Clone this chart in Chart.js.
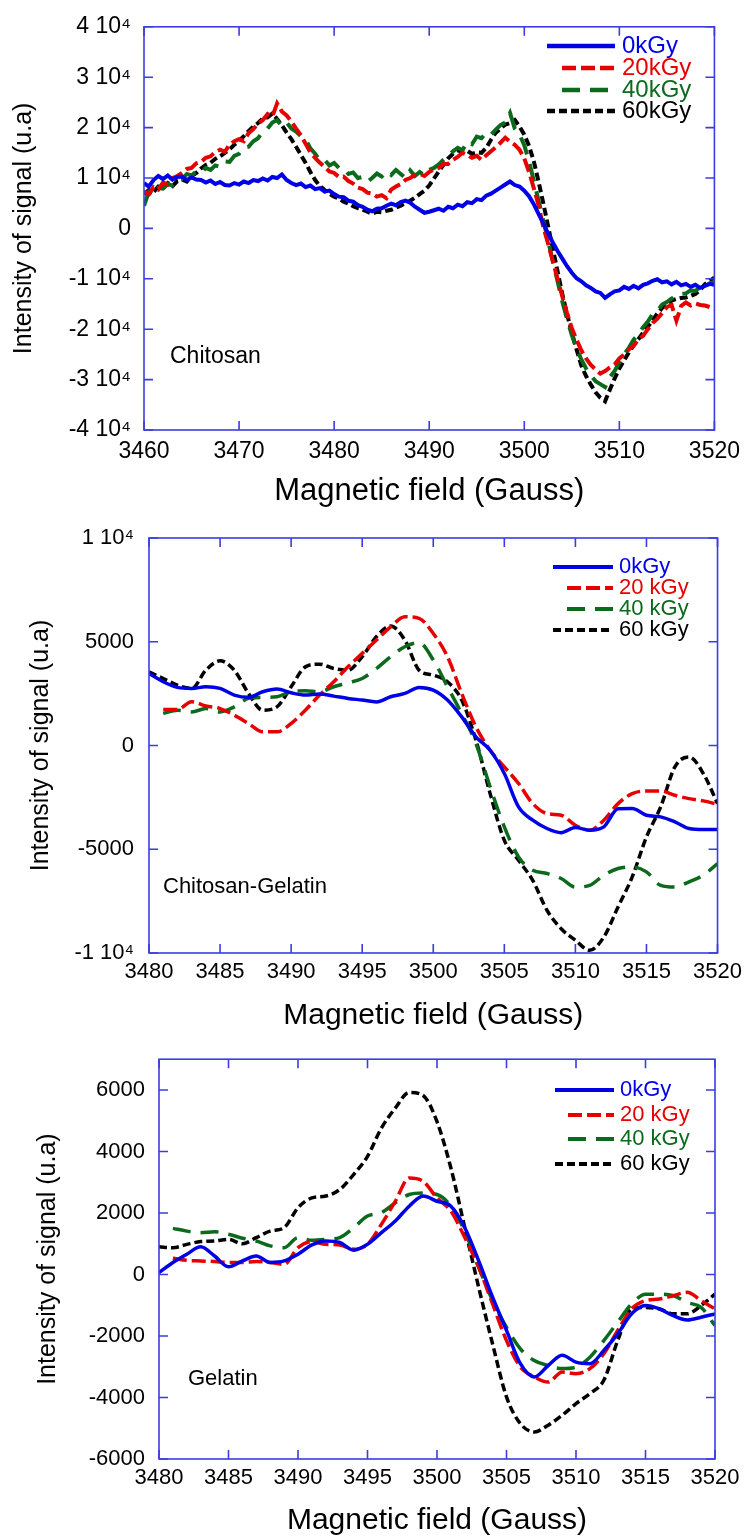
<!DOCTYPE html>
<html>
<head>
<meta charset="utf-8">
<script src="https://cdn.jsdelivr.net/npm/chart.js@4.4.1/dist/chart.umd.min.js"></script>
<style>
  body { margin: 0; background: #fff; }
  #wrap { position: relative; width: 748px; height: 1537px; }
  canvas { position: absolute; left: 0; }
</style>
</head>
<body>
<div id="wrap">
  <canvas id="c1" width="748" height="507" style="top:0px"></canvas>
  <canvas id="c2" width="748" height="525" style="top:507px"></canvas>
  <canvas id="c3" width="748" height="505" style="top:1032px"></canvas>
</div>
<script>
// ---- Chitosan (top panel) ----
const chitosanField = [3460,3460.5,3461,3461.5,3462,3462.5,3463,3463.5,3464,3464.5,3465,3465.5,3466,3466.5,3467,3467.5,3468,3468.5,3469,3469.5,
  3470,3470.5,3471,3471.5,3472,3472.5,3473,3473.5,3474,3474.5,3475,3475.5,3476,3476.5,3477,3477.5,3478,3478.5,3479,3479.5,
  3480,3480.5,3481,3481.5,3482,3482.5,3483,3483.5,3484,3484.5,3485,3485.5,3486,3486.5,3487,3487.5,3488,3488.5,3489,3489.5,
  3490,3490.5,3491,3491.5,3492,3492.5,3493,3493.5,3494,3494.5,3495,3495.5,3496,3496.5,3497,3497.5,3498,3498.5,3499,3499.5,
  3500,3500.5,3501,3501.5,3502,3502.5,3503,3503.5,3504,3504.5,3505,3505.5,3506,3506.5,3507,3507.5,3508,3508.5,3509,3509.5,
  3510,3510.5,3511,3511.5,3512,3512.5,3513,3513.5,3514,3514.5,3515,3515.5,3516,3516.5,3517,3517.5,3518,3518.5,3519,3519.5,3520];
const chitosan0 = [9000,8300,9600,10400,9800,10500,9700,10200,10300,9600,10100,9700,9600,9100,9500,8800,9200,8600,8500,9000,
  8700,9300,9000,9600,9400,9900,9500,10200,10000,10700,9600,9000,8600,8900,8200,8500,7800,8000,7300,7500,
  6800,6300,6200,5500,5300,4600,4300,3700,3400,3900,4000,4500,4900,4600,5200,5500,5100,4300,3700,3100,
  3300,3600,3900,3500,4300,4000,4700,4400,5200,5000,5800,5600,6500,6900,7500,8100,8700,9300,8600,8300,
  7500,6400,4800,2900,1000,-1000,-2800,-4500,-6000,-7500,-8800,-9900,-10500,-11300,-11800,-12500,-12800,-13800,-13100,-12500,
  -12300,-11600,-12000,-11400,-11900,-11200,-10900,-10400,-10100,-10700,-10500,-11100,-10600,-11300,-11000,-11600,-11200,-11800,-11400,-11000,-11200];
const chitosan20 = [7300,6800,8200,7700,9100,8700,10000,10400,11000,11800,12000,12900,13200,14000,14300,15200,15600,15200,16600,17300,
  17700,17300,18900,19700,20800,21500,22700,22200,24800,23200,22400,21200,19800,18500,16800,15100,14000,13000,12200,11300,
  11000,10200,10300,9400,8900,8100,7800,7100,6900,6300,6600,6000,7700,8300,8800,9600,10000,10600,10800,10400,
  11200,11700,12000,12800,12800,13600,14200,15000,14600,14000,14400,13600,14500,15300,16100,17000,18000,17200,16600,15600,
  13900,11200,8000,4600,300,-3000,-6500,-10000,-13500,-16800,-19800,-22100,-24200,-25800,-27100,-28000,-28800,-28300,-27600,-27000,
  -25800,-25000,-24000,-23300,-22000,-21300,-20000,-18800,-17900,-16800,-15600,-15200,-18300,-15400,-14700,-15300,-14900,-15200,-15300,-15600,-16000];
const chitosan40 = [4500,7200,6600,8000,7900,8800,8500,9600,9800,10800,10500,11300,11000,12000,11600,12500,12200,13300,13200,14400,
  14800,16000,16200,17300,17900,19200,19800,21000,21500,20300,21000,19800,19200,18300,17600,15900,14800,13500,13600,12500,
  13000,12000,11900,10800,11100,10000,10200,9300,10000,10900,10300,11300,10600,11600,10800,10000,11500,10400,11200,10500,
  11600,12000,12700,13600,14400,15300,16000,15500,17200,16700,18200,17900,19000,18600,19600,20500,21000,22900,19800,18600,
  16500,13300,9500,5500,1600,-2400,-6500,-10500,-14500,-18000,-21200,-23800,-26000,-27800,-29200,-30300,-30900,-31500,-29500,-28300,
  -26600,-25000,-23700,-22100,-21000,-19600,-18500,-17000,-16400,-15100,-14600,-13900,-13500,-13000,-12900,-12300,-12400,-11700,-11600,-10900,-10600];
const chitosan60 = [6800,7600,7200,8300,8000,9000,8400,9400,9700,9300,10400,11000,11900,12600,13000,13800,14300,15000,15700,16600,
  17400,18300,19300,20200,20900,21800,22000,22800,21700,20500,19000,17700,16200,14600,13000,11200,9600,8400,7600,6900,
  6300,5900,5300,4900,4400,4000,3700,3300,2900,3300,3200,3500,3700,4100,4500,5000,5500,6100,6800,7500,
  8500,9900,11300,12600,13900,14800,15500,15200,15400,14800,15100,15000,16000,17600,19000,19800,20600,20900,21500,20200,
  18600,16400,13300,9300,5000,500,-4000,-8500,-13000,-17000,-20700,-24000,-27200,-29300,-31000,-32500,-33600,-34300,-32000,-29800,
  -27800,-26200,-24600,-23200,-22000,-20700,-19500,-18200,-16900,-15800,-15000,-14300,-14000,-13800,-13700,-13400,-13000,-12200,-11100,-10400,-9800];
const chitosanXTicks = [3460, 3470, 3480, 3490, 3500, 3510, 3520];
const chitosanYTicks = [-40000, -30000, -20000, -10000, 0, 10000, 20000, 30000, 40000];

// ---- Chitosan-Gelatin (middle panel) ----
const blendField = [3480,3481,3482,3483,3484,3485,3486,3487,3488,3489,3490,3491,3492,3493,3494,3495,3496,3497,3498,3499,
  3500,3501,3502,3503,3504,3505,3506,3507,3508,3509,3510,3511,3512,3513,3514,3515,3516,3517,3518,3519,3520];
const blend0 = [3470,3070,2800,2750,2830,2750,2430,2320,2590,2720,2540,2430,2480,2380,2270,2190,2100,2350,2510,2800,
  2670,2190,1380,420,-230,-1350,-2960,-3600,-4000,-4200,-3950,-4080,-3920,-3050,-3040,-3360,-3440,-3680,-4000,-4050,-4050];
const blend20 = [null,1740,1740,2110,1900,1780,1460,1060,660,660,1060,1700,2430,3070,3790,4440,5080,5720,6210,6130,
  5400,4280,2510,900,-230,-1030,-1830,-2800,-3280,-3360,-3840,-4080,-3600,-2800,-2320,-2190,-2190,-2400,-2560,-2670,-2830];
const blend40 = [null,1540,1700,1620,1780,1620,1860,2270,2320,2350,2590,2640,2590,2830,3020,3230,3710,4280,4760,4950,
  4120,2830,1540,100,-1990,-3920,-5370,-6010,-6170,-6410,-6820,-6740,-6250,-5930,-5850,-6090,-6740,-6820,-6570,-6250,-5690];
const blend60 = [3550,3230,2910,2750,3630,4080,3630,2510,1700,1860,2830,3790,3920,3710,3630,4280,5240,5760,5080,3630,
  3390,3070,2190,260,-2320,-4570,-5530,-6500,-7940,-8830,-9390,-9870,-9230,-7780,-6330,-4410,-2960,-1030,-550,-1350,-2800];
const blendXTicks = [3480, 3485, 3490, 3495, 3500, 3505, 3510, 3515, 3520];
const blendYTicks = [-10000, -5000, 0, 5000, 10000];

// ---- Gelatin (bottom panel) ----
const gelatinField = blendField;
const gelatin0 = [65,390,660,900,600,250,440,600,390,440,660,960,1090,1040,790,980,1360,1740,2220,2550,
  2380,2220,1520,440,-740,-1820,-2900,-3330,-2960,-2630,-2850,-2900,-2470,-1930,-1280,-1010,-1120,-1340,-1480,-1390,-1280];
const gelatin20 = [null,530,460,440,420,390,390,420,390,330,870,1070,980,960,820,980,1630,2380,3140,3030,
  2490,2060,1200,230,-960,-2150,-3010,-3330,-3500,-3170,-3230,-3060,-2580,-1820,-1120,-850,-800,-690,-580,-850,-1120];
const gelatin40 = [null,1500,1410,1360,1390,1310,1180,1090,930,870,1200,1110,1140,1200,1520,1900,2010,2330,2600,2650,
  2600,2220,1410,230,-850,-1720,-2420,-2800,-2960,-3060,-3010,-2690,-2150,-1550,-960,-640,-640,-690,-910,-1070,-1660];
const gelatin60 = [900,870,980,1070,1090,1140,1000,1200,1410,1520,2170,2490,2550,2760,3250,3840,4760,5410,5920,5820,
  4970,3460,1520,-420,-2260,-3980,-4850,-5120,-4900,-4580,-4200,-3870,-3440,-2150,-1120,-1070,-1120,-1280,-1280,-1010,-640];
const gelatinXTicks = blendXTicks;
const gelatinYTicks = [-6000, -4000, -2000, 0, 2000, 4000, 6000];

const labelsA = ["0kGy", "20kGy", "40kGy", "60kGy"];
const labelsB = ["0kGy", "20 kGy", "40 kGy", "60 kGy"];

const BLUE = "#0000e6", RED = "#e60000", GREEN = "#0b6a1c", BLACK = "#000000";
const FRAME = "#3c3ce0";
const FONT = "'Liberation Sans', Arial, sans-serif";

function pts(xs, ys) {
  return xs.map((x, i) => ({ x: x, y: ys[i] }));
}

function series(xs, cols, labels, width, smooth) {
  const dashes = [[], [14, 5], [18, 10], [8, 4]];
  const colors = [BLUE, RED, GREEN, BLACK];
  return cols.map((ys, i) => ({
    label: labels[i],
    data: pts(xs, ys),
    borderColor: colors[i],
    borderWidth: width,
    borderDash: dashes[i],
    pointRadius: 0,
    fill: false,
    spanGaps: false,
    tension: smooth ? 0.4 : 0,
    cubicInterpolationMode: smooth ? "monotone" : "default"
  }));
}

// frame, inward ticks, in-plot legend and sample name
const overlay = {
  id: "overlay",
  afterDatasetsDraw(chart, args, o) {
    const ctx = chart.ctx, a = chart.chartArea;
    const xs = chart.scales.x, ys = chart.scales.y;
    ctx.save();
    ctx.setLineDash([]);
    ctx.strokeStyle = FRAME;
    ctx.lineWidth = 1.6;
    ctx.beginPath();
    xs.ticks.forEach(t => {
      const p = xs.getPixelForValue(t.value);
      ctx.moveTo(p, a.bottom); ctx.lineTo(p, a.bottom - 9);
      ctx.moveTo(p, a.top); ctx.lineTo(p, a.top + 9);
    });
    ys.ticks.forEach(t => {
      const p = ys.getPixelForValue(t.value);
      ctx.moveTo(a.left, p); ctx.lineTo(a.left + 9, p);
      ctx.moveTo(a.right, p); ctx.lineTo(a.right - 9, p);
    });
    ctx.stroke();
    ctx.strokeRect(a.left, a.top, a.right - a.left, a.bottom - a.top);

    // legend
    ctx.textBaseline = "middle";
    ctx.textAlign = "left";
    ctx.font = o.legendFont + "px " + FONT;
    chart.data.datasets.forEach((ds, i) => {
      const y = o.rows[i];
      ctx.strokeStyle = ds.borderColor;
      ctx.lineWidth = ds.borderWidth + 0.5;
      ctx.setLineDash(ds.borderDash);
      ctx.beginPath();
      ctx.moveTo(o.lineStart[i], y);
      ctx.lineTo(o.lineEnd, y);
      ctx.stroke();
      ctx.fillStyle = ds.borderColor;
      ctx.fillText(ds.label, o.textX, y);
    });

    ctx.setLineDash([]);
    ctx.fillStyle = "#000";
    ctx.font = o.noteFont + "px " + FONT;
    ctx.fillText(o.note, o.noteX, o.noteY);
    ctx.restore();
  }
};

function panel(id, p) {
  new Chart(document.getElementById(id), {
    type: "line",
    data: { datasets: p.datasets },
    options: {
      responsive: false,
      animation: false,
      layout: { padding: { top: p.top, right: p.right, left: 0, bottom: 0 } },
      plugins: { legend: { display: false }, tooltip: { enabled: false }, overlay: p.overlay },
      scales: {
        x: {
          type: "linear",
          min: p.xmin, max: p.xmax,
          afterBuildTicks: s => { s.ticks = p.xticks.map(v => ({ value: v })); },
          afterFit: s => { s.height = p.xh; },
          grid: { display: false, drawTicks: false, tickLength: 0 },
          border: { display: false },
          ticks: { padding: p.xpad, color: "#000", autoSkip: false,
                   font: { family: FONT, size: p.tickSize }, maxRotation: 0,
                   callback: v => String(v) },
          title: { display: true, text: "Magnetic field (Gauss)", color: "#000",
                   font: { family: FONT, size: p.xtSize, lineHeight: 1 },
                   padding: { top: 0, bottom: p.xtPad } }
        },
        y: {
          min: p.ymin, max: p.ymax,
          afterBuildTicks: s => { s.ticks = p.yticks.map(v => ({ value: v })); },
          afterFit: s => { s.width = p.yw; },
          grid: { display: false, drawTicks: false, tickLength: 0 },
          border: { display: false },
          ticks: { padding: p.ypad, color: "#000", autoSkip: false,
                   font: { family: FONT, size: p.tickSize }, callback: p.yfmt },
          title: { display: true, text: "Intensity of signal (u.a)", color: "#000",
                   font: { family: FONT, size: 25, lineHeight: 1 },
                   padding: { top: p.ytPad, bottom: 0 } }
        }
      }
    },
    plugins: [overlay]
  });
}

const sci = v => v === 0 ? "0" : (v / 1e4) + " 10\u2074";

panel("c1", {
  datasets: series(chitosanField, [chitosan0, chitosan20, chitosan40, chitosan60], labelsA, 4, false),
  top: 20, right: 33, yw: 144, xh: 77,
  xmin: 3460, xmax: 3520, xticks: chitosanXTicks, ymin: -40000, ymax: 40000, yticks: chitosanYTicks,
  tickSize: 23, xpad: 8, ypad: 13, xtSize: 31, xtPad: 0, ytPad: 11.5,
  yfmt: sci,
  overlay: { rows: [46, 68, 90, 111], lineStart: [547, 562, 562, 547], lineEnd: 615, textX: 622,
             legendFont: 24, note: "Chitosan", noteX: 170, noteY: 357, noteFont: 23 }
});

panel("c2", {
  datasets: series(blendField, [blend0, blend20, blend40, blend60], labelsB, 3.5, true),
  top: 31, right: 29, yw: 149, xh: 79,
  xmin: 3480, xmax: 3520, xticks: blendXTicks, ymin: -10000, ymax: 10000, yticks: blendYTicks,
  tickSize: 22, xpad: 6, ypad: 15, xtSize: 30, xtPad: 1, ytPad: 29,
  yfmt: v => Math.abs(v) === 10000 ? sci(v) : String(v),
  overlay: { rows: [60, 81, 102, 123], lineStart: [553, 567, 567, 553], lineEnd: 613, textX: 619,
             legendFont: 22, note: "Chitosan-Gelatin", noteX: 163, noteY: 380, noteFont: 22 }
});

panel("c3", {
  datasets: series(gelatinField, [gelatin0, gelatin20, gelatin40, gelatin60], labelsB, 3.5, true),
  top: 25, right: 33, yw: 159, xh: 78,
  xmin: 3480, xmax: 3520, xticks: gelatinXTicks, ymin: -6000, ymax: 7000, yticks: gelatinYTicks,
  tickSize: 22, xpad: 6, ypad: 14, xtSize: 30, xtPad: 1, ytPad: 36,
  yfmt: v => String(v),
  overlay: { rows: [58, 83, 107, 132], lineStart: [555, 568, 568, 555], lineEnd: 614, textX: 620,
             legendFont: 22, note: "Gelatin", noteX: 188, noteY: 347, noteFont: 22 }
});
</script>
</body>
</html>
